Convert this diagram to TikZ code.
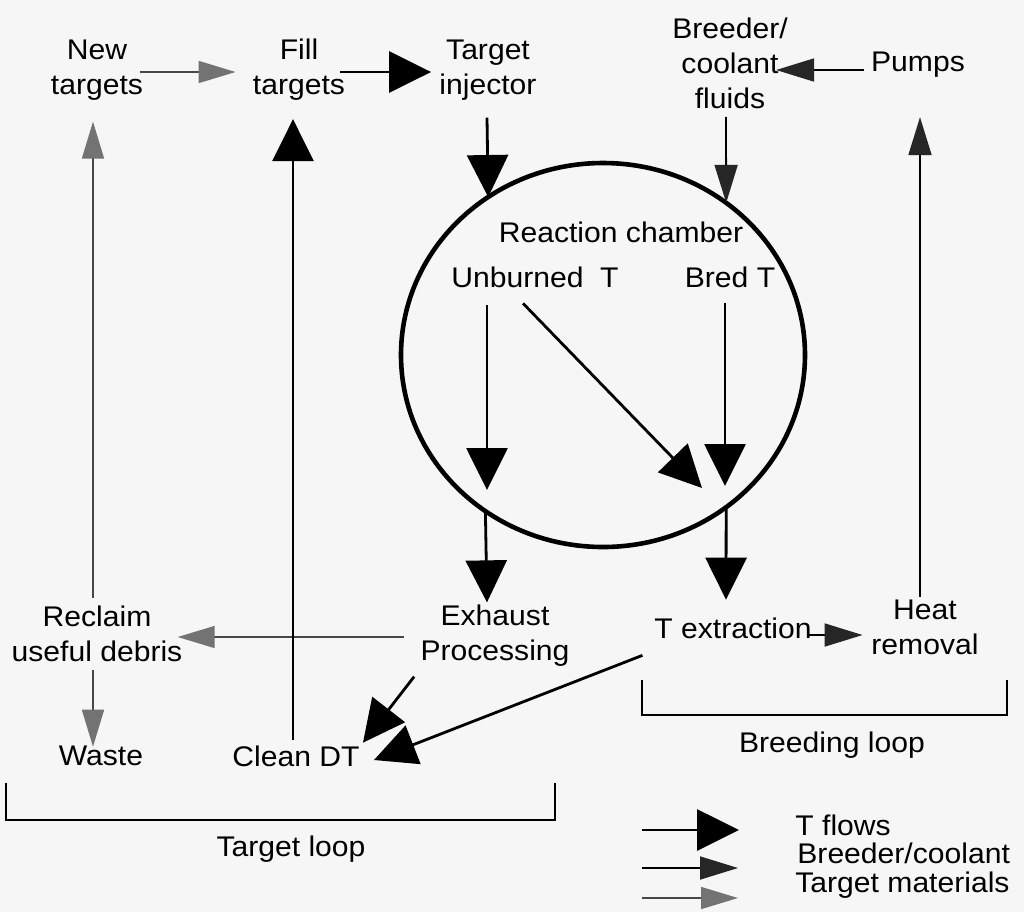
\documentclass[tikz,border=0pt]{standalone}
\usepackage{fontspec}
\setmainfont{Liberation Sans}[FakeStretch=1.06]
\usetikzlibrary{arrows.meta}
\usetikzlibrary{shapes.geometric}
\definecolor{paper}{RGB}{246,246,246}

\begin{document}
\begin{tikzpicture}[x = 0.5pt, y = -0.5pt,
    lbl/.style = {inner sep=0pt, align=center, font=\fontsize{14.2}{17.5}\selectfont},
    tflow/.style = {line width=1.4pt, -{Triangle[length=21pt,width=20.5pt]}},
    breed/.style = {line width=0.9pt, -{Triangle[length=19pt,width=11.5pt,color=black!85,fill=black!85]}},
    tmat/.style = {line width=0.8pt, draw=black!72, -{Triangle[length=18.5pt,width=11pt,color=black!55,fill=black!55]}},
    bracket/.style = {line width=1.4pt}]

    \fill[paper] (0,0) rectangle (1024,912);
    \useasboundingbox (0,0) rectangle (1024,912);

    \node[lbl] (newt) at (97,70) {New\\targets};
    \node[lbl] (filltgt) at (299,70) {Fill\\targets};
    \node[lbl] (inj) at (488,70) {Target\\injector};
    \node[lbl] (fluid) at (730,63) {Breeder/\\coolant\\fluids};
    \node[lbl] (pumps) at (918,65) {Pumps};

    \node[draw, ellipse, line width=2.3pt, inner sep=0pt, outer sep=0pt,
          minimum width=202pt, minimum height=192pt] (chamber) at (603,355) {};
    \node[lbl] (rc) at (621,232) {Reaction chamber};
    \node[lbl] (unb) at (535,277) {Unburned\ \ T};
    \node[lbl] (bred) at (730,277) {Bred T};
    \coordinate (uout) at (487,490);
    \coordinate (tin) at (702,488);
    \coordinate (bout) at (725,486);

    \node[lbl] (recl) at (97,634) {Reclaim\\useful debris};
    \node[lbl] (exh) at (495,636) {Exhaust\\Processing};
    \node[lbl] (textr) at (733,628) {T extraction};
    \node[lbl] (heat) at (925,627) {Heat\\removal};
    \node[lbl] (waste) at (101,756) {Waste};
    \node[lbl] (clean) at (296,756) {Clean DT};

    % target materials
    \draw[tmat] ([shift={(-3,2)}]newt.east) -- ([shift={(-17,2)}]filltgt.west);
    \draw[tmat] ([shift={(-4,-7.5)}]recl.north) -- ([shift={(-4,21)}]newt.south);
    \draw[tmat] ([shift={(-16,1)}]exh.west) -- ([shift={(-5,3)}]recl.east);
    \draw[tmat] ([shift={(-4,7.5)}]recl.south) -- ([shift={(-8,1)}]waste.north);

    % breeder / coolant
    \draw[breed] ([shift={(-6.5,5)}]pumps.west) -- ([shift={(-12,7)}]fluid.east);
    \draw[breed] ([shift={(-4,8)}]fluid.south) -- (chamber.51.1);
    \draw[breed] ([shift={(-4.5,7)}]textr.east) -- ([shift={(-8.5,8)}]heat.west);
    \draw[breed] ([shift={(-5,-2)}]heat.north) -- ([shift={(2,39)}]pumps.south);

    % T flows
    \draw[tflow] ([shift={(-5,2)}]filltgt.east) -- ([shift={(-8,2)}]inj.west);
    \draw[tflow] ([shift={(-1,17)}]inj.south) -- (chamber.126.4);
    \draw[tflow] ([shift={(-48,17.5)}]unb.south) -- (uout);
    \draw[tflow] ([shift={(-12,15.5)}]unb.south) -- (tin);
    \draw[tflow] ([shift={(-5,15.5)}]bred.south) -- (bout);
    \draw[tflow] (chamber.233.6) -- ([shift={(-8,-2.5)}]exh.north);
    \draw[tflow] (chamber.-51.1) -- ([shift={(-7,-17.5)}]textr.north);
    \draw[tflow] ([shift={(-6,9.5)}]exh.south west) -- ([shift={(3,-2.5)}]clean.north east);
    \draw[tflow] ([shift={(-11.5,16.5)}]textr.south west) -- ([shift={(14,4)}]clean.east);
    \draw[tflow] ([shift={(-3,-5.5)}]clean.north) -- ([shift={(-6,18)}]filltgt.south);

    % loops
    \draw[bracket] (6,783) |- (555,820) -- (555,783);
    \node[lbl] (tloop) at (291,849) {Target loop};
    \draw[bracket] (642,680) |- (1007,715) -- (1007,680);
    \node[lbl] (bloop) at (832,745) {Breeding loop};

    % legend
    \coordinate (lg1) at (642,830);
    \coordinate (lg2) at (642,868);
    \coordinate (lg3) at (642,898);
    \draw[tflow] (lg1) -- +(97,0);
    \draw[breed] (lg2) -- +(96,0);
    \draw[tmat] (lg3) -- +(96,0);
    \node[lbl, anchor=base west] (leg1) at (795,835) {T flows};
    \node[lbl, anchor=base west] (leg2) at (797,863) {Breeder/coolant};
    \node[lbl, anchor=base west] (leg3) at (795,892) {Target materials};

\end{tikzpicture}
\end{document}
